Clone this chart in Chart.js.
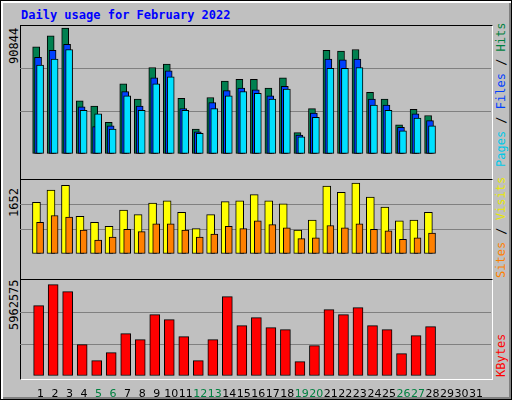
<!DOCTYPE html>
<html>
<head>
<meta charset="utf-8">
<script src="https://cdn.jsdelivr.net/npm/chart.js@4"></script>
<style>
  body { margin: 0; background: #fff; }
  #frame { position: absolute; left: 0; top: 0; width: 510px; height: 398px; background: #C0C0C0;
           border: 1px solid #000; box-shadow: inset 2px 2px 0 #fff, inset -2px -2px 0 #808080; }
  .panel { position: absolute; left: 19px; width: 471px; border-top: 1px solid #000; border-left: 1px solid #000;
           border-right: 1px solid #fff; border-bottom: 1px solid #fff; }
  .lbl { position: absolute; font-family: "DejaVu Sans Mono", monospace; font-size: 12px; white-space: nowrap;
         transform-origin: 0 0; transform: rotate(-90deg); }
  #title { position: absolute; left: 20px; top: 7px; font: bold 12px "DejaVu Sans Mono", monospace; color: #0000FF; }
  .box { position: absolute; left: 20px; width: 471px; }
</style>
</head>
<body>
<div id="frame">
  <div id="title">Daily usage for February 2022</div>
  <div class="panel" style="top:24px;height:153px"></div>
  <div class="panel" style="top:178px;height:99px"></div>
  <div class="panel" style="top:278px;height:99px"></div>
  <div class="lbl" style="left:6px;top:63px">90844</div>
  <div class="lbl" style="left:6px;top:216px">1652</div>
  <div class="lbl" style="left:6px;top:329px">5962575</div>
  <div class="lbl" style="left:493px;top:166px"><span style="color:#00C8E8">Pages</span> / <span style="color:#0040FF">Files</span> / <span style="color:#008040">Hits</span></div>
  <div class="lbl" style="left:493px;top:277px"><span style="color:#FF8000">Sites</span> / <span style="color:#E8E800">Visits</span></div>
  <div class="lbl" style="left:493px;top:376px;color:#FF0000">KBytes</div>
</div>
<div class="box" style="top:25px;height:151px"><canvas id="c1"></canvas></div>
<div class="box" style="top:180px;height:96px"><canvas id="c2"></canvas></div>
<div class="box" style="top:280px;height:118px"><canvas id="c3"></canvas></div>
<script>
// data
const days = [1,2,3,4,5,6,7,8,9,10,11,12,13,14,15,16,17,18,19,20,21,22,23,24,25,26,27,28];
const weekends = [5,6,12,13,19,20,26,27];
const hits = [75400,83200,88700,37400,33800,22300,49400,38600,60900,63300,39200,17500,39800,51300,52500,52500,46400,53700,15100,32000,73000,72400,73600,43400,38600,20500,31400,27100];
const files = [68100,73000,77200,33200,19300,19900,44000,33800,53700,58500,32000,15700,36200,44600,46400,45200,41000,47600,13300,28900,66900,66300,66900,38600,34400,18700,28300,23500];
const pages = [62700,66900,73600,30700,28300,17500,41000,30700,49400,54300,30700,14500,32000,41000,44000,42800,38600,45800,12100,25900,60300,60300,60900,34400,30700,16300,25300,19900];
const visits = [1153,1428,1531,843,705,620,981,878,1136,1187,929,568,878,1170,1187,1325,1187,1119,533,757,1514,1377,1583,1273,1050,740,757,929];
const sites = [705,860,826,533,310,379,551,499,671,671,533,379,447,620,568,740,654,585,344,361,637,585,671,551,516,327,361,465];
const kbytes = [4369000,5673000,5238000,1946000,952000,1449000,2629000,2257000,3809000,3499000,2443000,952000,2257000,4927000,3126000,3623000,3002000,2878000,890000,1884000,4120000,3809000,4244000,3126000,2878000,1387000,2505000,3064000];
const maxHits = 90844, maxVisits = 1652, maxKB = 5962575;

function pts(vals, off) { return vals.map((v, i) => ({ x: days[i] + off, y: v })); }
// first dataset in the list is drawn on top
function ds(vals, off, color, w) {
  return { data: pts(vals, off), backgroundColor: color, borderColor: '#000', borderWidth: 1,
           borderSkipped: false, barThickness: w, grouped: false };
}

function makeChart(id, datasets, max, showX) {
  return new Chart(document.getElementById(id), {
    type: 'bar',
    data: { datasets: datasets },
    options: {
      responsive: true, maintainAspectRatio: false, animation: false, events: [],
      layout: { padding: 0 },
      plugins: { legend: { display: false }, tooltip: { enabled: false } },
      scales: {
        x: { type: 'linear', min: 0.11, max: 31.51, display: showX,
             grid: { display: false }, border: { display: false },
             afterFit: s => { s.height = 22; },
             afterBuildTicks: s => { s.ticks = Array.from({ length: 31 }, (_, i) => ({ value: i + 1 })); },
             ticks: { autoSkip: false, maxRotation: 0, padding: 4,
                      font: { family: 'DejaVu Sans', size: 11 },
                      color: c => weekends.includes(c.tick.value) ? '#008040' : '#000' } },
        y: { min: 0, max: max, afterFit: s => { s.width = 0; },
             ticks: { display: false, stepSize: max / 3 },
             border: { display: false },
             grid: { drawTicks: false, lineWidth: 1,
                      color: c => (c.tick.value > 0 && c.tick.value < max * 0.99) ? '#808080' : 'rgba(0,0,0,0)' } }
      }
    }
  });
}

makeChart('c1', [
  ds(pages, -0.03, '#00E0FF', 7),
  ds(files, -0.17, '#0040FF', 7),
  ds(hits, -0.3, '#008050', 7)
], maxHits, false);

makeChart('c2', [
  ds(sites, -0.03, '#FF8000', 7),
  ds(visits, -0.28, '#FFFF00', 8)
], maxVisits, false);

makeChart('c3', [
  ds(kbytes, -0.13, '#FF0000', 10)
], maxKB, true);
</script>
</body>
</html>
